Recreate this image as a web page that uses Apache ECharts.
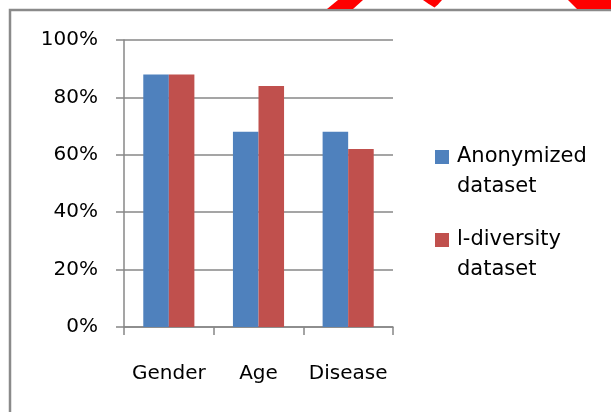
<!DOCTYPE html>
<html>
<head>
<meta charset="utf-8">
<script src="https://cdn.jsdelivr.net/npm/echarts@6/dist/echarts.min.js"></script>
<style>
html,body{margin:0;padding:0;background:#fff;}
#chart{width:611px;height:412px;}
</style>
</head>
<body>
<div id="chart"></div>
<script>
var categories = ['Gender', 'Age', 'Disease'];
var seriesNames = ['Anonymized dataset', 'l-diversity dataset'];
var anonymizedValues = [0.88, 0.68, 0.68];
var lDiversityValues = [0.88, 0.84, 0.62];
var yTickValues = [0, 0.2, 0.4, 0.6, 0.8, 1.0];

var chart = echarts.init(document.getElementById('chart'), null, {renderer: 'canvas'});
var FONT = '"DejaVu Sans", sans-serif';
var GRAY = '#878787';
// square at top of a tall icon box so it lines up with the first text line
var TOP_SQUARE = 'path://M0,0L14,0L14,14L0,14Z M0,44L0.01,44';

function legendItem(name, topPx) {
  return {
    data: [name],
    orient: 'vertical',
    left: 435,
    top: topPx,
    padding: 0,
    icon: TOP_SQUARE,
    itemWidth: 14,
    itemHeight: 44,
    itemGap: 0,
    selectedMode: false,
    formatter: function (n) { return n.replace(' ', '\n'); },
    textStyle: {
      fontFamily: FONT,
      fontSize: 21,
      color: '#000',
      lineHeight: 30,
      padding: [0, 0, 0, 3]
    }
  };
}

var option = {
  animation: false,
  backgroundColor: '#fff',
  grid: {left: 124, top: 40, right: 218, bottom: 85, containLabel: false},
  legend: [legendItem(seriesNames[0], 142), legendItem(seriesNames[1], 225)],
  xAxis: {
    type: 'category',
    data: categories,
    boundaryGap: true,
    axisLine: {show: true, lineStyle: {color: GRAY, width: 1.5}},
    axisTick: {show: true, length: 8, lineStyle: {color: GRAY, width: 1.5}},
    axisLabel: {fontFamily: FONT, fontSize: 20, color: '#000', margin: 37, interval: 0}
  },
  yAxis: {
    type: 'value',
    min: yTickValues[0],
    max: yTickValues[yTickValues.length - 1],
    interval: 0.2,
    axisLine: {show: true, lineStyle: {color: GRAY, width: 1.5}},
    axisTick: {show: true, length: 8, lineStyle: {color: GRAY, width: 1.5}},
    splitLine: {show: true, lineStyle: {color: GRAY, width: 1.5}},
    axisLabel: {
      fontFamily: FONT, fontSize: 20, color: '#000', margin: 26,
      formatter: function (v) { return Math.round(v * 100) + '%'; }
    }
  },
  series: [
    {
      name: seriesNames[0], type: 'bar', data: anonymizedValues,
      barGap: '0%', barCategoryGap: '43%',
      itemStyle: {color: '#4f81bd'}
    },
    {
      name: seriesNames[1], type: 'bar', data: lDiversityValues,
      barGap: '0%', barCategoryGap: '43%',
      itemStyle: {color: '#c0504d'}
    }
  ],
  graphic: [
    {type: 'rect', z: 100, silent: true,
      shape: {x: 10, y: 10, width: 800, height: 600},
      style: {fill: null, stroke: '#8a8a8a', lineWidth: 2.5}},
    {type: 'polygon', z: 100, silent: true,
      shape: {points: [[327, 9], [353, 9], [363, 0], [338, 0]]},
      style: {fill: '#ff0000'}},
    {type: 'polygon', z: 100, silent: true,
      shape: {points: [[423, 0], [442, 0], [438, 4.5], [434.5, 7.5], [428, 3.5]]},
      style: {fill: '#ff0000'}},
    {type: 'polygon', z: 100, silent: true,
      shape: {points: [[568, 0], [611, 0], [611, 9], [577, 9]]},
      style: {fill: '#ff0000'}}
  ]
};
chart.setOption(option);
</script>
</body>
</html>
